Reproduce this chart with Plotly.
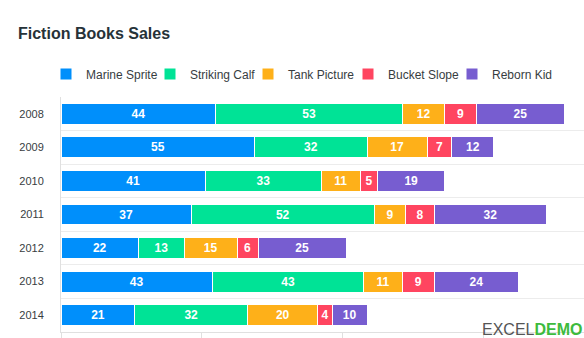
import plotly.graph_objects as go

years = ["2008", "2009", "2010", "2011", "2012", "2013", "2014"]
series_names = ["Marine Sprite", "Striking Calf", "Tank Picture", "Bucket Slope", "Reborn Kid"]
marine_sprite = [44, 55, 41, 37, 22, 43, 21]
striking_calf = [53, 32, 33, 52, 13, 43, 32]
tank_picture = [12, 17, 11, 9, 15, 11, 20]
bucket_slope = [9, 7, 5, 8, 6, 9, 4]
reborn_kid = [25, 12, 19, 32, 25, 24, 10]
colors = ["#008FFB", "#00E396", "#FEB019", "#FF4560", "#775DD0"]

series_values = [marine_sprite, striking_calf, tank_picture, bucket_slope, reborn_kid]

FONT = "Liberation Sans, Arial, Helvetica, sans-serif"

# legend entry widths (px) chosen to tighten legend spacing; last entry keeps full text width
legend_entry_px = [59, 53, 55, 59, 66]

fig = go.Figure()
for name, vals, col, lw in zip(series_names, series_values, colors, legend_entry_px):
    fig.add_trace(go.Bar(
        name=name, y=years, x=vals, orientation="h",
        marker=dict(color=col, line=dict(color="#ffffff", width=1)),
        text=vals, textposition="inside", insidetextanchor="middle",
        textfont=dict(color="#ffffff", size=12, family=FONT, weight="bold"),
        constraintext="none",
        legendwidth=lw,
    ))

fig.update_layout(
    width=584, height=338,
    barmode="stack", bargap=0.38,
    paper_bgcolor="#ffffff", plot_bgcolor="#ffffff",
    margin=dict(l=61, r=0, t=97, b=3),
    font=dict(family=FONT, color="#373d3f"),
    uniformtext=dict(mode="show", minsize=12),
    title=dict(text="<b>Fiction Books Sales</b>", x=18/584, xanchor="left",
               y=1 - 33/338, yanchor="middle", yref="container", xref="container",
               font=dict(size=16, color="#263238", family=FONT)),
    legend=dict(orientation="h", x=46/584, xanchor="left", xref="container",
                y=1 - 74/338, yanchor="middle", yref="container",
                font=dict(size=12, color="#373d3f"), traceorder="normal",
                itemwidth=30, bgcolor="rgba(0,0,0,0)"),
    xaxis=dict(range=[0, 523/3.52], dtick=40, tick0=0, showgrid=False,
               zeroline=False, showline=True, linecolor="#e0e0e0",
               ticks="outside", ticklen=6, tickcolor="#e0e0e0",
               showticklabels=False, fixedrange=True),
    yaxis=dict(autorange="reversed", type="category", tickson="boundaries",
               showgrid=True, gridcolor="#ececec", gridwidth=1,
               showline=True, linecolor="#e0e0e0", ticks="", ticklen=0,
               ticklabelstandoff=14,
               tickfont=dict(size=11, color="#373d3f")),
    annotations=[dict(
        text="<span style='color:#555555'>EXCEL</span><b><span style='color:#3dbb3d'>DEMO</span></b>",
        xref="paper", yref="paper", x=1, y=0, xanchor="right", yanchor="bottom",
        xshift=0, yshift=-8, showarrow=False,
        font=dict(size=16, family=FONT))],
)

fig.write_html("out.html")
